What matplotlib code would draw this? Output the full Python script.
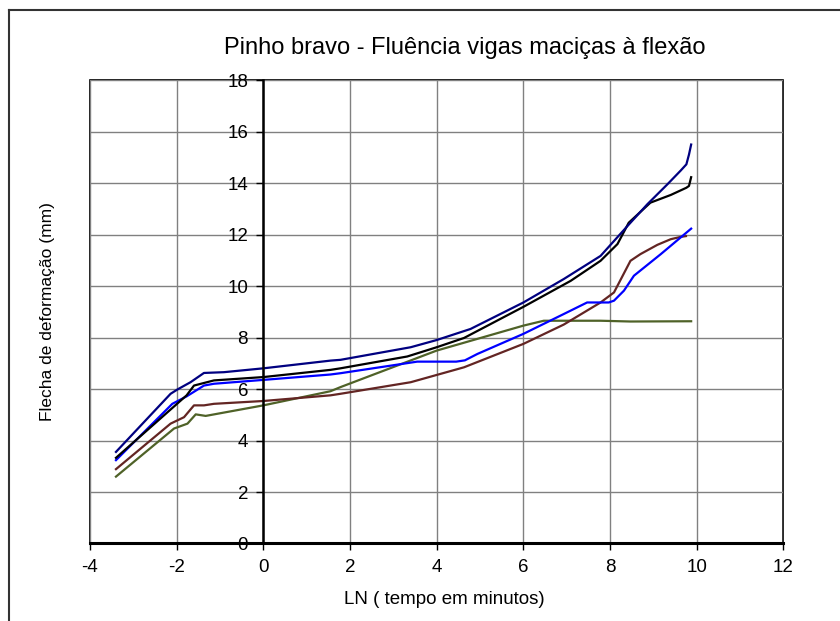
import matplotlib
matplotlib.use("Agg")
import matplotlib.pyplot as plt
from matplotlib.patches import Rectangle
from matplotlib.lines import Line2D

plt.rcParams["font.family"] = ["Liberation Sans", "DejaVu Sans"]
plt.rcParams["axes.unicode_minus"] = False

# navy curve
x_navy = [-3.40, -2.14, -1.98, -1.68, -1.37, -0.91, 0.0, 1.55, 1.78, 3.40, 4.00, 4.78,
          6.00, 6.93, 7.78, 8.40, 8.86, 9.32, 9.63, 9.76, 9.82, 9.87]
y_navy = [3.56, 5.82, 5.99, 6.27, 6.63, 6.66, 6.81, 7.11, 7.14, 7.63, 7.91, 8.34,
          9.37, 10.28, 11.18, 12.34, 13.19, 13.96, 14.50, 14.74, 15.12, 15.51]

# black curve
x_black = [-3.40, -1.77, -1.60, -1.14, 0.0, 1.55, 1.78, 3.32, 4.00, 4.63, 6.00, 7.09,
           7.78, 8.17, 8.43, 8.93, 9.40, 9.76, 9.82, 9.87]
y_black = [3.33, 5.76, 6.14, 6.34, 6.47, 6.75, 6.81, 7.27, 7.63, 7.99, 9.20, 10.21,
           10.99, 11.64, 12.47, 13.25, 13.55, 13.83, 13.90, 14.24]

# blue curve
x_blue = [-3.40, -2.10, -1.77, -1.37, -1.14, 0.0, 1.55, 1.78, 3.55, 4.45, 4.65, 4.94, 6.00,
          6.93, 7.47, 7.97, 8.09, 8.32, 8.55, 9.17, 9.87]
y_blue = [3.24, 5.43, 5.72, 6.14, 6.21, 6.36, 6.57, 6.62, 7.07, 7.07, 7.12, 7.37, 8.15,
          8.92, 9.37, 9.37, 9.44, 9.83, 10.41, 11.25, 12.24]

# brown curve
x_brown = [-3.40, -2.14, -1.83, -1.60, -1.37, -1.14, 0.0, 1.55, 1.78, 3.40, 4.63, 6.00,
           6.93, 7.78, 8.09, 8.47, 8.70, 9.09, 9.40, 9.63, 9.75]
y_brown = [2.89, 4.66, 4.91, 5.37, 5.37, 5.43, 5.54, 5.76, 5.82, 6.27, 6.85, 7.76,
           8.51, 9.37, 9.76, 10.99, 11.25, 11.61, 11.83, 11.92, 11.95]

# olive curve
x_olive = [-3.40, -2.06, -1.75, -1.56, -1.33, 0.0, 1.55, 1.78, 4.00, 6.00, 6.47,
           7.78, 8.47, 9.87]
y_olive = [2.60, 4.47, 4.66, 5.02, 4.96, 5.37, 5.92, 6.08, 7.50, 8.47, 8.66,
           8.66, 8.63, 8.64]

x_ticks = [-4, -2, 0, 2, 4, 6, 8, 10, 12]
y_ticks = [0, 2, 4, 6, 8, 10, 12, 14, 16, 18]

fig = plt.figure(figsize=(8.4, 6.21), dpi=100)
ax = fig.add_axes([0.1071, 0.1248, 0.8256, 0.7456])

ax.plot(x_olive, y_olive, color="#4F6228", lw=1.6)
ax.plot(x_brown, y_brown, color="#632523", lw=1.6)
ax.plot(x_blue, y_blue, color="#0000FF", lw=1.6)
ax.plot(x_black, y_black, color="black", lw=1.6)
ax.plot(x_navy, y_navy, color="#000080", lw=1.6)

ax.set_xlim(-4, 12)
ax.set_ylim(0, 18)
ax.set_xticks(x_ticks)
ax.set_yticks(y_ticks)
ax.grid(True, color="#808080", lw=1)
ax.set_axisbelow(True)

for s in ["top", "right"]:
    ax.spines[s].set_visible(False)
ax.spines["left"].set_position(("data", 0))
ax.spines["left"].set_linewidth(1.8)
ax.spines["bottom"].set_linewidth(2.2)
ax.add_patch(Rectangle((0, 0), 1, 1, transform=ax.transAxes, fill=False,
                       ec="black", lw=1.2, zorder=0.5, clip_on=False))
ax.tick_params(axis="both", direction="out", length=5, width=1, labelsize=13.5,
               colors="black", pad=6)

fig.text(0.5536, 0.922, "Pinho bravo - Fluência vigas maciças à flexão",
         fontsize=17, ha="center", va="center")
fig.text(0.529, 1 - 600 / 621, "LN ( tempo em minutos)", fontsize=13.5,
         ha="center", va="center")
ax.set_ylabel("Flecha de deformação (mm)", fontsize=12.5)
ax.yaxis.set_label_coords(-0.05, 0.5, transform=ax.transAxes)

# outer chart frame
fig.add_artist(Line2D([0.0107, 0.0107], [0.0, 0.984], color="#333333", lw=1.5))
fig.add_artist(Line2D([0.0107, 1.0], [0.984, 0.984], color="#333333", lw=1.5))

fig.savefig("out.png", dpi=100)
